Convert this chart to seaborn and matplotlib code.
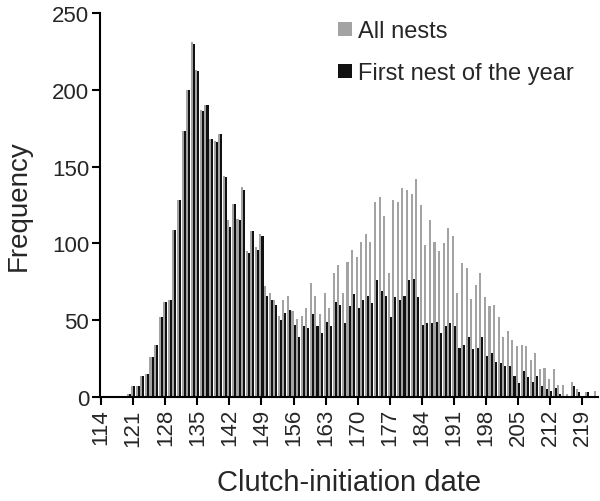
import seaborn as sns
import matplotlib.pyplot as plt
import pandas as pd

# Clutch-initiation day (one bar pair per day)
days = list(range(114, 223))

# All nests (grey bars)
all_nests = [0, 0, 0, 0, 0, 1, 2, 7, 7, 14,
             15, 26, 34, 52, 62, 63, 109, 128, 173, 200,
             231, 213, 187, 190, 168, 167, 171, 144, 115, 126,
             116, 137, 95, 108, 98, 106, 72, 68, 63, 53,
             63, 66, 56, 51, 53, 58, 74, 66, 54, 68,
             58, 81, 86, 68, 88, 96, 91, 101, 106, 101,
             127, 130, 118, 81, 128, 127, 136, 135, 132, 142,
             125, 99, 115, 101, 95, 100, 110, 105, 68, 87,
             84, 64, 73, 81, 65, 59, 60, 52, 39, 43,
             37, 33, 34, 33, 24, 29, 18, 19, 12, 18,
             8, 8, 2, 10, 5, 1, 3, 1, 4]

# First nest of the year (black bars)
first_nest = [0, 0, 0, 0, 0, 1, 2, 7, 7, 14,
              15, 26, 34, 52, 62, 63, 109, 128, 173, 200,
              230, 212, 186, 190, 168, 166, 171, 143, 111, 126,
              115, 135, 94, 108, 96, 105, 66, 63, 60, 50,
              55, 57, 47, 39, 46, 45, 54, 46, 42, 49,
              46, 62, 60, 48, 59, 67, 58, 63, 66, 61,
              76, 69, 66, 52, 65, 63, 66, 76, 77, 65,
              47, 48, 48, 49, 42, 46, 48, 46, 32, 34,
              39, 31, 32, 39, 27, 29, 23, 22, 20, 20,
              14, 9, 17, 13, 10, 14, 7, 5, 4, 6,
              2, 1, 1, 7, 3, 0, 3, 0, 1]

n = len(days)
df = pd.DataFrame({
    'day': days * 2,
    'freq': all_nests + first_nest,
    'series': ['All nests'] * n + ['First nest of the year'] * n,
})

sns.set_style('ticks')
plt.rcParams['font.family'] = ['Liberation Sans', 'DejaVu Sans']

fig = plt.figure(figsize=(6, 5.02), dpi=100)
ax = fig.add_axes([0.167, 0.207, 0.83, 0.765])

sns.barplot(data=df, x='day', y='freq', hue='series',
            palette={'All nests': '#a3a3a3', 'First nest of the year': '#111111'},
            saturation=1, width=0.9, errorbar=None, linewidth=0, ax=ax)

ax.set_xticks(range(0, n, 7))
ax.set_xticklabels(days[::7], rotation=90)
ax.set_xlim(-0.2, n - 0.5)
ax.set_ylim(0, 250)
ax.set_yticks(range(0, 251, 50))

ax.tick_params(axis='both', direction='out', length=6, width=1.5,
               labelsize=16, color='black', pad=2)
for side in ['left', 'bottom']:
    ax.spines[side].set_linewidth(1.5)
    ax.spines[side].set_color('black')
sns.despine(ax=ax)

ax.set_xlabel('Clutch-initiation date', fontsize=21)
ax.set_ylabel('Frequency', fontsize=20)
ax.xaxis.set_label_coords(0.5, -0.185)
ax.yaxis.set_label_coords(-0.138, 0.5)

handles, labels = ax.get_legend_handles_labels()
ax.legend(handles, labels, frameon=False, fontsize=17, loc='upper left',
          bbox_to_anchor=(0.478, 0.982), borderpad=0, borderaxespad=0,
          handlelength=0.57, handleheight=0.55, handletextpad=0.25,
          labelspacing=0.85)

plt.savefig('out.png', dpi=100)
